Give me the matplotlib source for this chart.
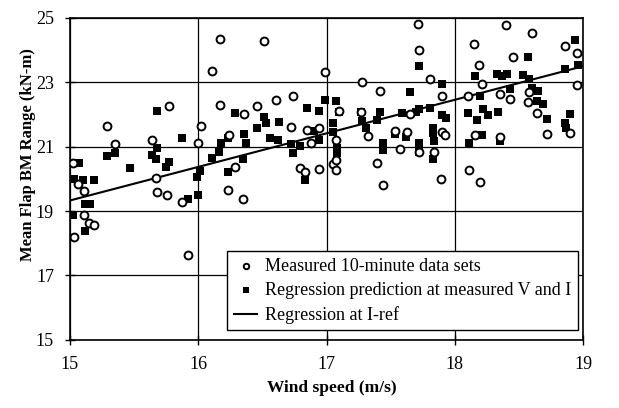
import matplotlib
matplotlib.use("Agg")
import matplotlib.pyplot as plt

plt.rcParams['font.family'] = ['Liberation Serif', 'DejaVu Serif']

# measured 10-minute data sets (wind speed, flap BM range)
meas_v = [16.17, 16.11, 15.77, 16.17, 16.36, 15.29, 16.02, 15.35, 15.64, 16.00,
          16.24, 15.02, 15.67, 16.29, 15.06, 15.11, 15.68, 15.76, 15.87, 16.23,
          16.35, 15.11, 15.15, 15.19, 15.03, 15.92,
          16.51, 16.99, 17.28, 17.42, 17.71, 17.72, 16.74, 16.61, 16.46, 17.10,
          16.72, 16.85, 16.94, 17.27, 16.88, 17.07, 17.32, 17.53, 17.63, 17.65,
          17.57, 16.79, 16.83, 16.94, 17.05, 17.07, 17.07, 17.39, 17.44,
          18.40, 18.60, 18.15, 18.86, 18.95, 18.45, 18.19, 17.81, 18.21, 18.95,
          17.90, 18.10, 18.35, 18.43, 18.58, 18.57, 18.64, 17.90, 17.92, 18.16,
          18.35, 18.72, 18.90, 17.72, 17.84, 18.11, 18.20, 17.89]
meas_bm = [24.35, 23.35, 22.27, 22.31, 22.02, 21.64, 21.64, 21.08, 21.20, 21.10,
           21.37, 20.50, 20.03, 20.37, 19.84, 19.63, 19.59, 19.50, 19.28, 19.67,
           19.38, 18.87, 18.62, 18.58, 18.19, 17.64,
           24.29, 23.31, 23.02, 22.74, 24.80, 24.00, 22.56, 22.45, 22.25, 22.10,
           21.60, 21.53, 21.58, 22.08, 21.12, 21.20, 21.34, 21.50, 21.47, 22.02,
           20.93, 20.33, 20.22, 20.31, 20.47, 20.28, 20.60, 20.50, 19.81,
           24.78, 24.54, 24.19, 24.13, 23.90, 23.80, 23.54, 23.10, 22.95, 22.92,
           22.56, 22.59, 22.63, 22.48, 22.69, 22.38, 22.04, 21.47, 21.35, 21.37,
           21.30, 21.39, 21.42, 20.83, 20.85, 20.28, 19.90, 20.00]

# regression prediction at measured V and I
pred_v = [15.68, 16.29, 15.87, 16.36, 16.18, 16.23, 15.68, 15.35, 15.29, 16.16,
          15.07, 15.64, 15.67, 16.11, 15.77, 15.75, 15.47, 16.01, 15.99, 16.35,
          16.23, 15.03, 15.10, 15.19, 16.00, 15.92, 15.12, 15.16, 15.02, 15.12,
          16.37,
          17.65, 17.72, 16.99, 17.07, 17.10, 16.85, 16.94, 17.27, 17.42, 16.51,
          16.46, 16.63, 16.53, 17.28, 17.39, 17.05, 16.90, 17.59, 17.70, 16.56,
          16.62, 16.72, 16.79, 16.94, 17.05, 17.08, 17.08, 17.31, 17.44, 17.44,
          17.53, 17.62, 17.72, 17.72, 16.74, 16.83,
          18.94, 18.57, 18.16, 18.33, 18.37, 18.41, 18.53, 18.58, 18.86, 18.96,
          17.90, 18.43, 18.20, 18.65, 18.60, 17.72, 17.81, 18.64, 18.69, 17.90,
          17.93, 18.10, 18.17, 18.22, 18.34, 18.26, 18.72, 18.90, 18.86, 18.87,
          17.83, 17.83, 17.84, 18.21, 18.35, 18.11, 17.83]
pred_bm = [22.11, 22.05, 21.26, 21.41, 21.10, 21.26, 20.97, 20.82, 20.70, 20.85,
           20.50, 20.73, 20.62, 20.66, 20.54, 20.38, 20.33, 20.25, 20.07, 20.62,
           20.20, 20.00, 19.98, 19.98, 19.50, 19.38, 19.21, 19.21, 18.87, 18.39,
           21.10,
           22.69, 23.52, 22.44, 22.42, 22.09, 22.20, 22.11, 22.07, 22.07, 21.93,
           21.57, 21.78, 21.73, 21.80, 21.82, 21.73, 21.49, 22.04, 22.09, 21.27,
           21.20, 21.08, 21.03, 21.22, 21.47, 20.95, 20.80, 21.58, 21.10, 20.90,
           21.41, 21.30, 21.10, 20.85, 20.80, 19.97,
           24.32, 23.79, 23.21, 23.25, 23.21, 23.27, 23.23, 23.11, 23.42, 23.54,
           22.95, 22.79, 22.59, 22.73, 22.82, 22.17, 22.20, 22.42, 22.32, 21.99,
           21.89, 22.04, 21.83, 22.16, 22.08, 21.99, 21.86, 22.02, 21.73, 21.58,
           21.58, 21.43, 21.18, 21.35, 21.19, 21.10, 20.62]

# regression at I-ref
line_v = [15.0, 19.0]
line_bm = [19.33, 23.50]

x_ticks = [15, 16, 17, 18, 19]
y_ticks = [15, 17, 19, 21, 23, 25]

fig = plt.figure(figsize=(6.19, 4.08), dpi=100)
ax = fig.add_axes([0.113, 0.167, 0.829, 0.789])

ax.plot(line_v, line_bm, color='black', lw=1.5, label='Regression at I-ref', zorder=3)
ax.scatter(pred_v, pred_bm, marker='s', s=32, color='black', lw=0,
           label='Regression prediction at measured V and I', zorder=4)
ax.scatter(meas_v, meas_bm, marker='o', s=32, facecolor='white', edgecolor='black',
           lw=1.4, label='Measured 10-minute data sets', zorder=5)

ax.set_xlim(15, 19)
ax.set_ylim(15, 25)
ax.set_xticks(x_ticks)
ax.set_yticks(y_ticks)
ax.grid(True, color='black', lw=0.9)
ax.set_axisbelow(True)
ax.tick_params(direction='inout', length=7, width=1, labelsize=13, pad=8)
for s in ax.spines.values():
    s.set_linewidth(1.2)

ax.set_xlabel('Wind speed (m/s)', fontsize=12.5, fontweight='bold', labelpad=3)
ax.xaxis.set_label_coords(0.51, -0.125)
ax.set_ylabel('Mean Flap BM Range (kN-m)', fontsize=12, fontweight='bold')
ax.yaxis.set_label_coords(-0.066, 0.575)

h, l = ax.get_legend_handles_labels()
order = [2, 1, 0]
leg = ax.legend([h[i] for i in order], [l[i] for i in order], loc='lower right',
                bbox_to_anchor=(0.99, 0.03), borderaxespad=0, fontsize=13,
                frameon=True, fancybox=False, edgecolor='black', framealpha=1,
                handlelength=1.3, handletextpad=0.45,
                borderpad=0.35, labelspacing=0.4, markerscale=0.7)
leg.get_frame().set_linewidth(1.0)

fig.savefig('out.png', dpi=100)
